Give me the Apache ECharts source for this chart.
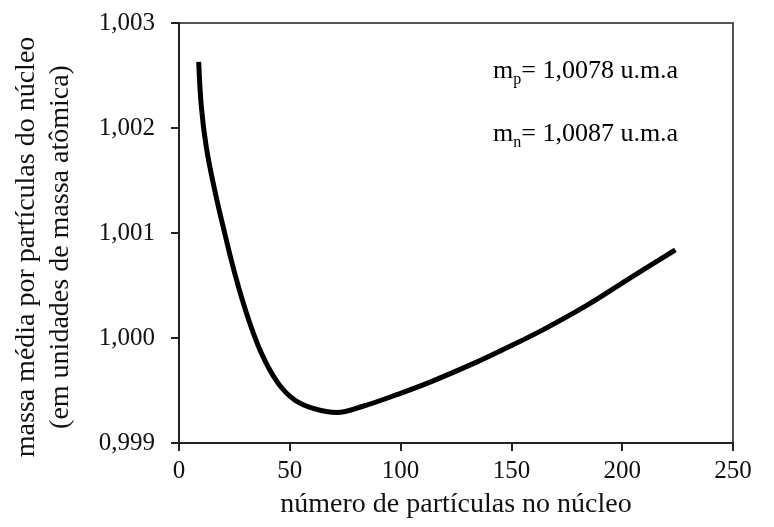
<!DOCTYPE html>
<html>
<head>
<meta charset="utf-8">
<script src="https://cdn.jsdelivr.net/npm/echarts@6/dist/echarts.min.js"></script>
<style>html,body{margin:0;padding:0;background:#fff}#c{width:774px;height:527px}</style>
</head>
<body>
<div id="c"></div>
<script>
// number of nucleons (A)
var nucleons = [8.9, 10.1, 12.3, 16.1, 20.6, 25.1, 30.4, 37.1, 44.7, 52.2, 60.6, 71.2, 83.0, 98.2, 113.3, 134.3, 146.3, 164.4, 184.0, 203.5, 224];
// average mass per nucleon (u)
var massPerNucleon = [1.00263, 1.00220, 1.00182, 1.00141, 1.00100, 1.00062, 1.00024, 0.99986, 0.99957, 0.99941, 0.99933, 0.99929, 0.99935, 0.99946, 0.99958, 0.99977, 0.99989, 1.00008, 1.00031, 1.00057, 1.00084];
var xTicks = [0, 50, 100, 150, 200, 250];
var yTicks = [0.999, 1.000, 1.001, 1.002, 1.003];
var xTitle = 'número de partículas no núcleo';
var yTitle = ['massa média por partículas do núcleo', '(em unidades de massa atômica)'];
var notes = [['m', 'p', '= 1,0078 u.m.a'], ['m', 'n', '= 1,0087 u.m.a']];

var F = 'Liberation Serif';
var C = '#111';
var chart = echarts.init(document.getElementById('c'));
var pts = nucleons.map(function (x, i) { return [x, massPerNucleon[i]]; });
chart.setOption({
  animation: false,
  backgroundColor: '#fff',
  grid: { left: 179, right: 41, top: 23, bottom: 84, outerBoundsMode: 'none', containLabel: false,
    show: true, borderColor: '#555', borderWidth: 2, backgroundColor: 'transparent' },
  xAxis: {
    type: 'value', min: xTicks[0], max: xTicks[xTicks.length - 1], interval: 50,
    name: xTitle, nameLocation: 'middle', nameGap: 48,
    nameTextStyle: { fontFamily: F, fontSize: 28, color: C },
    axisLine: { lineStyle: { color: '#222', width: 2 } },
    axisTick: { length: 8, lineStyle: { color: '#222', width: 2 } },
    axisLabel: { fontFamily: F, fontSize: 25, color: C, margin: 16 },
    splitLine: { show: false }
  },
  yAxis: {
    type: 'value', min: yTicks[0], max: yTicks[yTicks.length - 1], interval: 0.001,
    name: yTitle.join('\n'), nameLocation: 'middle', nameGap: 101, nameRotate: 90,
    nameTextStyle: { fontFamily: F, fontSize: 28, color: C, lineHeight: 34, align: 'center', padding: [0, 28, 0, 0] },
    axisLine: { lineStyle: { color: '#222', width: 2 } },
    axisTick: { length: 8, lineStyle: { color: '#222', width: 2 } },
    axisLabel: { fontFamily: F, fontSize: 25, color: C, margin: 24,
      formatter: function (v) { return v.toFixed(3).replace('.', ','); } },
    splitLine: { show: false }
  },
  graphic: notes.map(function (n, i) {
    return {
      type: 'text', left: 493, top: 57 + i * 63,
      style: {
        text: '{a|' + n[0] + '}{s|' + n[1] + '}{a|' + n[2] + '}',
        rich: {
          a: { fontFamily: F, fontSize: 26, color: C, verticalAlign: 'top', lineHeight: 30 },
          s: { fontFamily: F, fontSize: 16, color: C, verticalAlign: 'bottom', lineHeight: 30, padding: [15, 0, 0, 0] }
        }
      }
    };
  }),
  series: [{
    type: 'line', data: pts, smooth: 0.4, showSymbol: false,
    lineStyle: { color: '#000', width: 5 }
  }]
});
</script>
</body>
</html>
